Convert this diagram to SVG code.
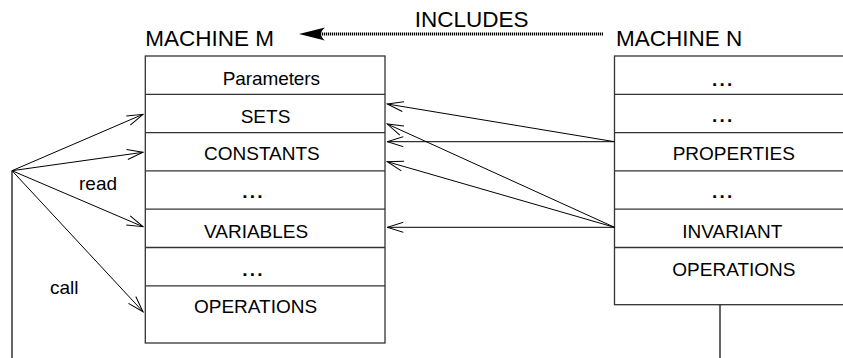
<svg xmlns="http://www.w3.org/2000/svg" width="843" height="358" viewBox="0 0 843 358">
<style>
  .box { fill: #fff; stroke: #333; stroke-width: 1.3; }
  .div { stroke: #333; stroke-width: 1.3; }
  .t { font-family: "Liberation Sans", Arial, sans-serif; font-size: 19px; fill: #000; }
  .h { font-family: "Liberation Sans", Arial, sans-serif; font-size: 22.5px; fill: #000; }
  .dots { font-family: "Liberation Sans", Arial, sans-serif; font-size: 19px; font-weight: bold; letter-spacing: 2.2px; fill: #000; }
  .c { stroke: #000; stroke-width: 1; fill: none; marker-end: url(#open); }
  .plain { stroke: #000; stroke-width: 1.2; fill: none; }
</style>
<defs>
  <marker id="open" viewBox="-17 -6 18 12" refX="0" refY="0" markerWidth="18" markerHeight="12" markerUnits="userSpaceOnUse" orient="auto">
    <path d="M-16,-5 L0,0 L-16,5" fill="none" stroke="#000" stroke-width="1"/>
  </marker>
</defs>
<rect width="843" height="358" fill="#fff"/>

<g id="machine-m">
  <text class="h" x="145.3" y="45.7">MACHINE M</text>
  <rect class="box" x="145.3" y="56" width="239.7" height="287"/>
  <line class="div" x1="145.3" y1="94.3" x2="385" y2="94.3"/>
  <line class="div" x1="145.3" y1="132.6" x2="385" y2="132.6"/>
  <line class="div" x1="145.3" y1="170.9" x2="385" y2="170.9"/>
  <line class="div" x1="145.3" y1="209.2" x2="385" y2="209.2"/>
  <line class="div" x1="145.3" y1="247.5" x2="385" y2="247.5"/>
  <line class="div" x1="145.3" y1="285.8" x2="385" y2="285.8"/>
  <text class="t" x="222.7" y="85" textLength="97.3">Parameters</text>
  <text class="t" x="240.7" y="122.7">SETS</text>
  <text class="t" x="204" y="160">CONSTANTS</text>
  <text class="dots" x="242.3" y="198.3">...</text>
  <text class="t" x="204" y="238.3">VARIABLES</text>
  <text class="dots" x="242.3" y="276">...</text>
  <text class="t" x="194" y="313.3">OPERATIONS</text>
</g>

<g id="machine-n">
  <text class="h" x="616" y="45.7">MACHINE N</text>
  <rect class="box" x="614.5" y="56" width="240" height="248.7"/>
  <line class="div" x1="614.5" y1="94.3" x2="843" y2="94.3"/>
  <line class="div" x1="614.5" y1="132.6" x2="843" y2="132.6"/>
  <line class="div" x1="614.5" y1="170.9" x2="843" y2="170.9"/>
  <line class="div" x1="614.5" y1="209.2" x2="843" y2="209.2"/>
  <line class="div" x1="614.5" y1="247.5" x2="843" y2="247.5"/>
  <text class="dots" x="712" y="85.5">...</text>
  <text class="dots" x="712" y="121.5">...</text>
  <text class="t" x="672.7" y="160">PROPERTIES</text>
  <text class="dots" x="712" y="198.3">...</text>
  <text class="t" x="682.3" y="238.3">INVARIANT</text>
  <text class="t" x="672.3" y="276">OPERATIONS</text>
</g>

<g id="connectors">
  <!-- INCLUDES -->
  <line x1="603" y1="34" x2="320" y2="34" stroke="#000" stroke-width="3" stroke-dasharray="1.2 0.8"/>
  <path d="M299,34 L325,27.5 Q317,34 325,40.5 Z" fill="#000"/>
  <text class="h" x="471.7" y="26.7" text-anchor="middle">INCLUDES</text>

  <!-- left read/call -->
  <line class="plain" x1="12" y1="170.7" x2="12" y2="358"/>
  <line class="c" x1="12" y1="170.7" x2="143" y2="114.3"/>
  <line class="c" x1="12" y1="170.7" x2="143" y2="152.3"/>
  <line class="c" x1="12" y1="170.7" x2="143" y2="226.7"/>
  <line class="c" x1="12" y1="170.7" x2="143" y2="311.7"/>
  <text class="t" x="79" y="190">read</text>
  <text class="t" x="50" y="294.3">call</text>

  <!-- from N to M -->
  <line class="c" x1="614.5" y1="141.7" x2="387.3" y2="104"/>
  <line class="c" x1="614.5" y1="141.7" x2="387.3" y2="141.7"/>
  <line class="c" x1="614.5" y1="227.3" x2="387.3" y2="124"/>
  <line class="c" x1="614.5" y1="227.3" x2="387.3" y2="161.7"/>
  <line class="c" x1="614.5" y1="227.3" x2="387.3" y2="227.3"/>

  <!-- N bottom -->
  <line class="plain" x1="720" y1="304.7" x2="720" y2="358"/>
</g>
</svg>
